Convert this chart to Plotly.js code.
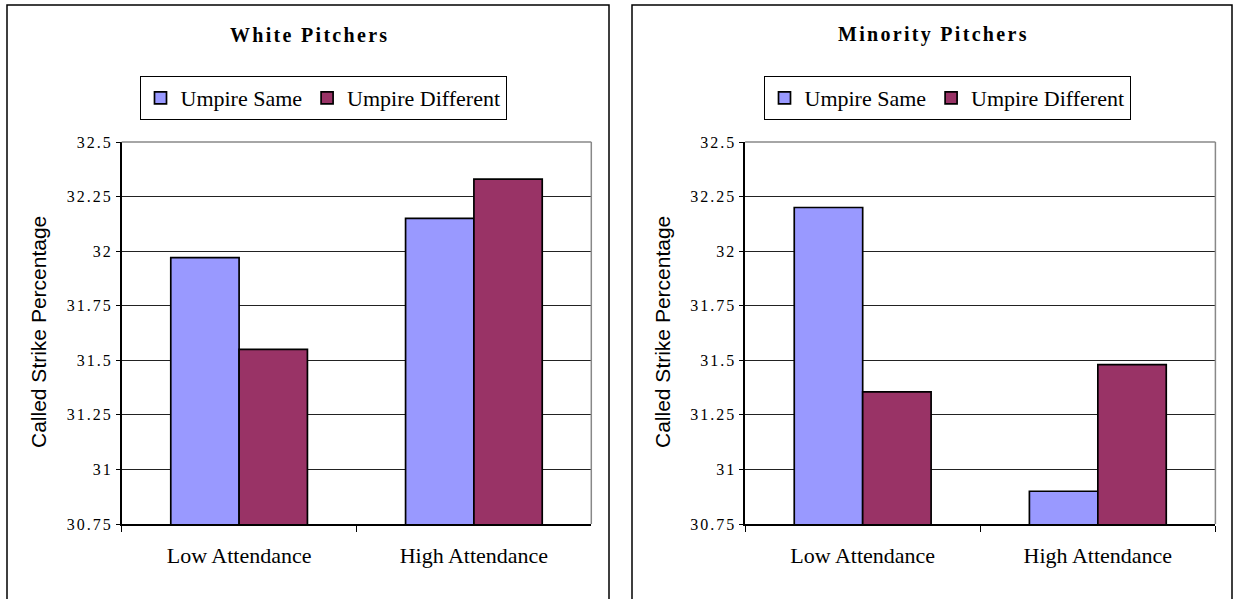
<!DOCTYPE html>
<html>
<head>
<meta charset="utf-8">
<script src="https://cdn.plot.ly/plotly-3.0.1.min.js"></script>
<style>
html,body{margin:0;padding:0;background:#fff;}
#chart{width:1235px;height:599px;}
.ytick text, .y2tick text { letter-spacing: 2px; }
</style>
</head>
<body>
<div id="chart"></div>
<script>
// ---- data ----
var categories = ["Low Attendance", "High Attendance"];
var seriesNames = ["Umpire Same", "Umpire Different"];
var whiteSame = [31.97, 32.15];
var whiteDifferent = [31.55, 32.33];
var minoritySame = [32.20, 30.90];
var minorityDifferent = [31.355, 31.48];
var yTickVals = [30.75, 31, 31.25, 31.5, 31.75, 32, 32.25, 32.5];
var yTickText = ["30.75", "31", "31.25", "31.5", "31.75", "32", "32.25", "32.5"];
var chartTitles = ["White Pitchers", "Minority Pitchers"];
var yTitle = "Called Strike Percentage";

// ---- styles ----
var W = 1235, H = 599;
var colSame = "#9999FF", colDiff = "#993366";
var serif = "Liberation Serif, Times New Roman, serif";
var sans = "Liberation Sans, Arial, sans-serif";
function px(x){ return x / W; }
function py(y){ return 1 - y / H; }

function bar(name, x, y, color, xa, ya, legend, show) {
  return {
    type: "bar", name: name, x: x, y: y,
    xaxis: xa, yaxis: ya, legend: legend, showlegend: show,
    marker: { color: color, line: { color: "#000", width: 1.7 } },
    hoverinfo: "x+y+name"
  };
}

var traces = [
  bar(seriesNames[0], categories, whiteSame, colSame, "x", "y", "legend", true),
  bar(seriesNames[1], categories, whiteDifferent, colDiff, "x", "y", "legend", true),
  bar(seriesNames[0], categories, minoritySame, colSame, "x2", "y2", "legend2", true),
  bar(seriesNames[1], categories, minorityDifferent, colDiff, "x2", "y2", "legend2", true)
];

var yDom = [py(524), py(142)];
function xAxis(dom, anchor) {
  return {
    domain: dom, anchor: anchor, type: "category",
    tickson: "boundaries", ticks: "outside", ticklen: 6, tickwidth: 1, tickcolor: "#000",
    showline: true, linecolor: "#000", linewidth: 1.5, showgrid: false, zeroline: false,
    tickfont: { family: serif, size: 22, color: "#000" },
    ticklabelstandoff: 11,
    automargin: false, fixedrange: true
  };
}
function yAxis(anchor) {
  return {
    domain: yDom, anchor: anchor, range: [30.75, 32.5], autorange: false,
    tickmode: "array", tickvals: yTickVals, ticktext: yTickText,
    ticks: "outside", ticklen: 4, tickwidth: 1, tickcolor: "#000",
    showline: true, linecolor: "#000", linewidth: 1.5,
    showgrid: true, gridcolor: "#222", gridwidth: 1, zeroline: false,
    tickfont: { family: serif, size: 16, color: "#000" },
    ticklabelstandoff: 0,
    automargin: false, fixedrange: true
  };
}

var leftPlot = [121.7, 591.3], rightPlot = [745.1, 1215.4];

function legendDef(cx) {
  return {
    orientation: "h", x: px(cx), xanchor: "center", y: py(76), yanchor: "top",
    bgcolor: "#fff", bordercolor: "#000", borderwidth: 1,
    font: { family: serif, size: 22, color: "#000" },
    itemwidth: 30, traceorder: "normal", itemclick: false, itemdoubleclick: false
  };
}

var shapes = [
  // outer chart boxes
  { type: "rect", xref: "paper", yref: "paper", x0: px(7), x1: px(609), y0: -0.1, y1: py(5),
    line: { color: "#000", width: 1.5 }, layer: "below" },
  { type: "rect", xref: "paper", yref: "paper", x0: px(632), x1: px(1232), y0: -0.1, y1: py(5),
    line: { color: "#000", width: 1.5 }, layer: "below" },
  // gray top & right plot borders
  { type: "line", xref: "paper", yref: "paper", x0: px(leftPlot[0]), x1: px(leftPlot[1]), y0: yDom[1], y1: yDom[1], line: { color: "#888", width: 1.5 } },
  { type: "line", xref: "paper", yref: "paper", x0: px(leftPlot[1]), x1: px(leftPlot[1]), y0: yDom[0], y1: yDom[1], line: { color: "#888", width: 1.5 } },
  { type: "line", xref: "paper", yref: "paper", x0: px(rightPlot[0]), x1: px(rightPlot[1]), y0: yDom[1], y1: yDom[1], line: { color: "#888", width: 1.5 } },
  { type: "line", xref: "paper", yref: "paper", x0: px(rightPlot[1]), x1: px(rightPlot[1]), y0: yDom[0], y1: yDom[1], line: { color: "#888", width: 1.5 } }
];

var titleFont = { family: serif, size: 20, color: "#000", weight: "bold" };
var annotations = [
  { xref: "paper", yref: "paper", x: px(309), y: py(35), xanchor: "center", yanchor: "middle", showarrow: false,
    text: '<span style="letter-spacing:2.3px">' + chartTitles[0] + '</span>', font: titleFont },
  { xref: "paper", yref: "paper", x: px(933), y: py(35), xanchor: "center", yanchor: "middle", showarrow: false,
    text: '<span style="letter-spacing:2.3px">' + chartTitles[1] + '</span>', font: titleFont },
  { xref: "paper", yref: "paper", x: px(38), y: py(332), xanchor: "center", yanchor: "middle", showarrow: false, textangle: -90,
    text: yTitle, font: { family: sans, size: 21, color: "#000" } },
  { xref: "paper", yref: "paper", x: px(662), y: py(332), xanchor: "center", yanchor: "middle", showarrow: false, textangle: -90,
    text: yTitle, font: { family: sans, size: 21, color: "#000" } }
];

var layout = {
  width: W, height: H,
  margin: { l: 0, r: 0, t: 0, b: 0, pad: 0 },
  paper_bgcolor: "#fff", plot_bgcolor: "#fff",
  barmode: "group", bargap: 0.418, bargroupgap: 0,
  xaxis: xAxis([px(leftPlot[0]), px(leftPlot[1])], "y"),
  yaxis: yAxis("x"),
  xaxis2: xAxis([px(rightPlot[0]), px(rightPlot[1])], "y2"),
  yaxis2: yAxis("x2"),
  legend: legendDef(323),
  legend2: legendDef(947),
  shapes: shapes,
  annotations: annotations,
  font: { family: serif, color: "#000" }
};

Plotly.newPlot("chart", traces, layout, { displayModeBar: false, staticPlot: false, responsive: false });
</script>
</body>
</html>
